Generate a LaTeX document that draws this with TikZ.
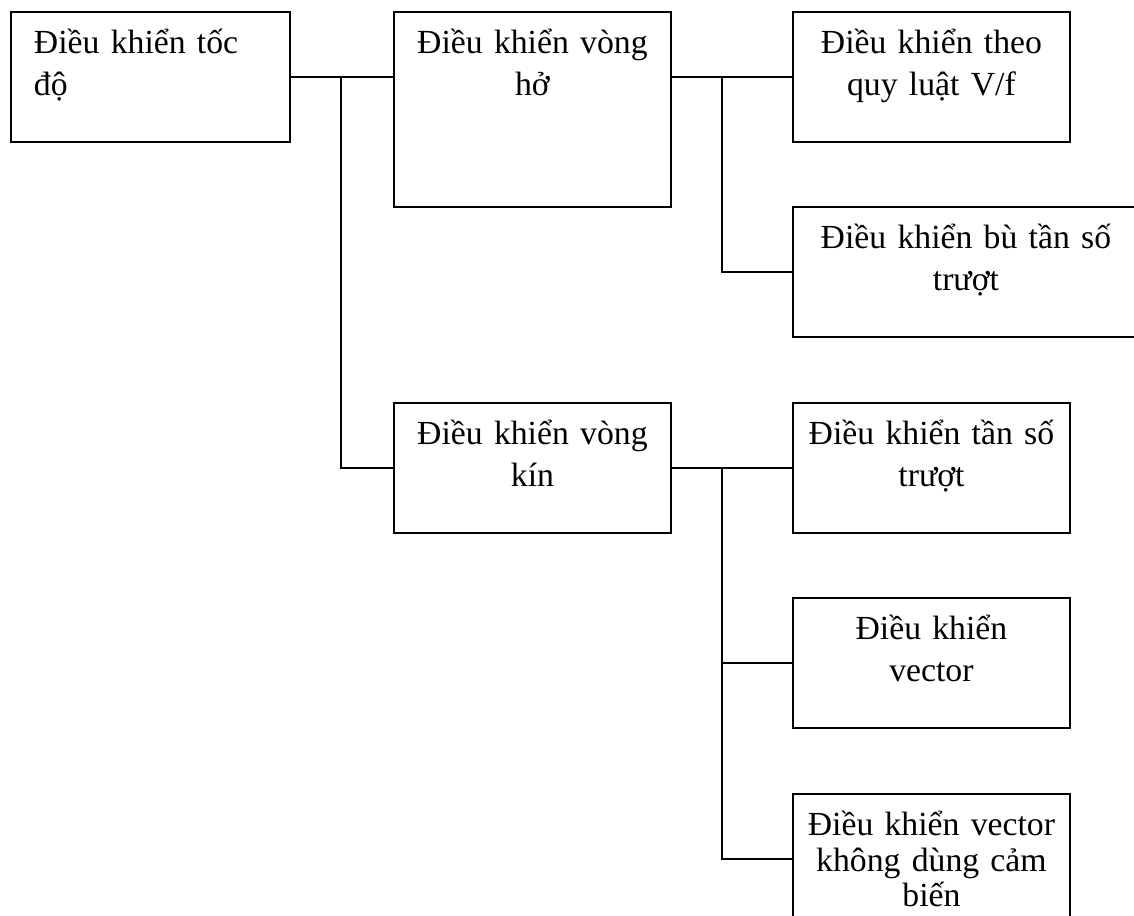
\documentclass[tikz,border=0pt]{standalone}
\usepackage{fontspec}
\setmainfont{Liberation Serif}
\begin{document}
\begin{tikzpicture}[x=0.02cm, y=-0.02cm, line width=1.1pt,
		box/.style={draw, anchor=north west, inner xsep=0pt, inner ysep=0pt,
			text width=5.54cm, align=center, text height=0.84cm, text depth=1.76cm,
			font=\fontsize{19.2pt}{23.4pt}\selectfont}]
		\useasboundingbox (0,0) rectangle (1134,916);
		\node[box, text width=4.66cm, inner xsep=0.46cm, align=left] (speed) at (10,11) {Điều khiển tốc\\độ};
		\node[box, text depth=3.06cm] (open) at (393,11) {Điều khiển vòng\\hở};
		\node[box] (vf) at (792,11) {Điều khiển theo\\quy luật V/f};
		\node[box, text width=6.92cm] (slipcomp) at (792,206) {Điều khiển bù tần số\\trượt};
		\node[box] (closed) at (393,402) {Điều khiển vòng\\kín};
		\node[box] (slip) at (792,402) {Điều khiển tần số\\trượt};
		\node[box] (vec) at (792,597) {Điều khiển\\vector};
		\node[box, font=\fontsize{19.2pt}{20.2pt}\selectfont] (sensorless) at (792,793)
			{Điều khiển vector\\không dùng cảm\\biến};
		\coordinate (j1) at (341,76);
		\coordinate (j2) at (722,76);
		\coordinate (j3) at (722,467);
		\draw (speed.east) -- (speed.east -| open.west);
		\draw (j1) |- (closed.west);
		\draw (speed.east -| open.east) -- (vf.west);
		\draw (j2) |- (slipcomp.west);
		\draw (closed.east) -- (slip.west);
		\draw (j3) |- (vec.west);
		\draw (j3) |- (sensorless.west);
	\end{tikzpicture}
\end{document}
